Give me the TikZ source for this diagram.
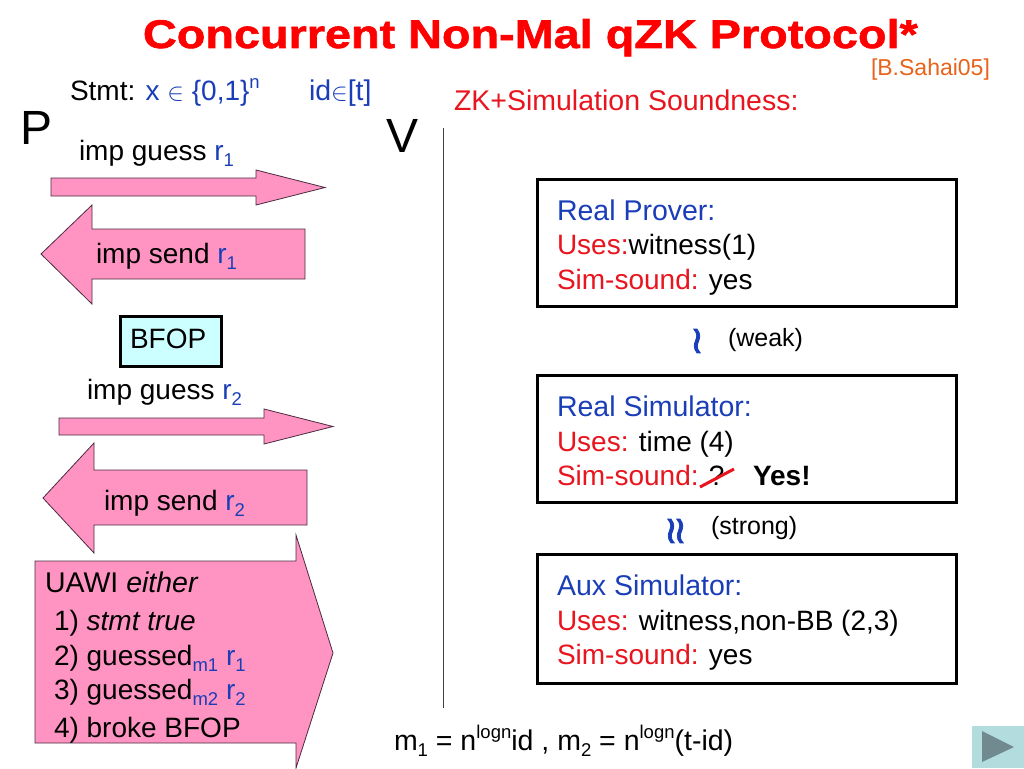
\documentclass[tikz,border=0pt]{standalone}
\usepackage{fontspec}
\setmainfont{Liberation Sans}
\newfontfamily\dejavu[FakeBold=2]{DejaVu Sans}
\newfontfamily\titlefont[FakeStretch=1.17,FakeBold=1.5]{Liberation Sans Bold}
\definecolor{myblue}{HTML}{1A3DB8}
\definecolor{myred}{HTML}{E8141E}
\definecolor{mypink}{HTML}{FF94C2}
\definecolor{myedge}{HTML}{4A2A40}
\definecolor{mycyan}{HTML}{CCFFFF}
\definecolor{myorange}{HTML}{E8621A}
\definecolor{navbg}{HTML}{B2DCDE}
\definecolor{navfg}{HTML}{708A90}
\newcommand{\fsz}[1]{\fontsize{#1}{#1}\selectfont}
\newcommand{\bl}[1]{\textcolor{myblue}{#1}}
\newcommand{\rd}[1]{\textcolor{myred}{#1}}
\newcommand{\sbs}[1]{\raisebox{-0.24em}{\fsz{18.5}#1}}
\newcommand{\sps}[1]{\raisebox{0.42em}{\fsz{18.5}#1}}
\tikzset{
  txt/.style={anchor=base west,inner sep=0pt,outer sep=0pt,font=\fsz{28}},
  txtb/.style={txt,font=\fsz{28.5}},
  pinkshape/.style={fill=mypink,draw=myedge,line width=0.8pt,line join=miter},
  whitebox/.style={draw=black,fill=white,line width=3pt},
  squig/.style={anchor=center,inner sep=0pt,outer sep=0pt,text=myblue,font=\dejavu\fsz{38}}
}
\begin{document}
\begin{tikzpicture}[x=1pt,y=-1pt]
\useasboundingbox (0,0) rectangle (1024,768);
% title
\node[txt,font=\titlefont\fsz{40},text=red] (title) at (143,48) {Concurrent Non-Mal qZK Protocol*};
\node[txt,font=\fsz{23},text=myorange] (cite) at (871,75) {[B.Sahai05]};
% header
\node[txt] (stmt) at (70,100) {Stmt: \bl{x $\in$ \{0,1\}\sps{n}}};
\node[txtb] (idt) at (309,100) {\bl{id$\in$[t]}};
\node[txtb] (zk) at (454,110) {\rd{ZK+Simulation Soundness:}};
\node[txt,font=\fsz{48}] (P) at (20,144) {P};
\node[txt,font=\fsz{48}] (V) at (386,152) {V};
\draw[line width=1pt,draw=black!75] (443,128) -- (443,708);
% arrows
\draw[pinkshape] (51,178) -- (256,178) -- (256,170) -- (325,187.5) -- (256,205) -- (256,196) -- (51,196) -- cycle;
\draw[pinkshape] (41,254) -- (92,205) -- (92,229) -- (305,229) -- (305,279) -- (92,279) -- (92,304) -- cycle;
\draw[pinkshape] (59,418) -- (264,418) -- (264,409) -- (333,426.5) -- (264,444) -- (264,435) -- (59,435) -- cycle;
\draw[pinkshape] (43,498) -- (94,443) -- (94,470) -- (307,470) -- (307,525) -- (94,525) -- (94,553) -- cycle;
\draw[pinkshape] (35,561) -- (296,561) -- (296,535) -- (333,653) -- (296,768) -- (296,743) -- (35,743) -- cycle;
\node[txt] (g1) at (79,160) {imp guess \bl{r\sbs{1}}};
\node[txt] (s1) at (96,263) {imp send \bl{r\sbs{1}}};
\node[draw=black,fill=mycyan,line width=3pt,minimum width=101pt,minimum height=50pt,inner sep=0pt,outer sep=0pt] (bfop) at (170.5,341) {};
\node[txt] (bfoplabel) at (130,348) {BFOP};
\node[txt] (g2) at (87,399) {imp guess \bl{r\sbs{2}}};
\node[txt] (s2) at (104,510) {imp send \bl{r\sbs{2}}};
\node[txtb] (u0) at (45,592) {UAWI \textit{either}};
\node[txt] (u1) at (54,630) {1) \textit{stmt true}};
\node[txt] (u2) at (54,665) {2) guessed\bl{\sbs{m1} r\sbs{1}}};
\node[txt] (u3) at (54,699) {3) guessed\bl{\sbs{m2} r\sbs{2}}};
\node[txt] (u4) at (54,737) {4) broke BFOP};
% right boxes
\node[whitebox,minimum width=419pt,minimum height=127pt,inner sep=0pt] (box1) at (746.5,242.5) {};
\node[whitebox,minimum width=419pt,minimum height=127pt,inner sep=0pt] (box2) at (746.5,438.5) {};
\node[whitebox,minimum width=419pt,minimum height=129pt,inner sep=0pt] (box3) at (746.5,618.5) {};
\node[txtb] (a1) at (557,220) {\bl{Real Prover:}};
\node[txt] (a2) at (557,254) {\rd{Uses:}witness(1)};
\node[txt] (a3) at (557,289) {\rd{Sim-sound:} yes};
\node[squig] (w) at (697,341) {≀};
\node[txt,font=\fsz{25}] (weak) at (728,346) {(weak)};
\node[txtb] (b1) at (557,416) {\bl{Real Simulator:}};
\node[txt] (b2) at (557,451) {\rd{Uses:} time (4)};
\node[txt] (b3) at (557,485) {\rd{Sim-sound:} ?};
\node[txt,font=\bfseries\fsz{28}] (yes) at (753,485) {Yes!};
\coordinate (s0) at (700,487);
\coordinate (s9) at (734,469);
\draw[draw=myred,line width=3pt] (s0) -- (s9);
\node[squig] (st) at (671,531) {≀};
\node[squig] (st2) at (680,531) {≀};
\node[txt,font=\fsz{25}] (strong) at (711,534) {(strong)};
\node[txtb] (c1) at (557,595) {\bl{Aux Simulator:}};
\node[txt] (c2) at (557,630) {\rd{Uses:} witness,non-BB (2,3)};
\node[txt] (c3) at (557,664) {\rd{Sim-sound:} yes};
\node[txtb] (m) at (394,750) {m\sbs{1} = n\sps{logn}id , m\sbs{2} = n\sps{logn}(t-id)};
% nav button
\fill[navbg] (972,726) rectangle (1024,768);
\fill[navfg] (982,731) -- (1014,747) -- (982,762) -- cycle;
\end{tikzpicture}
\end{document}
